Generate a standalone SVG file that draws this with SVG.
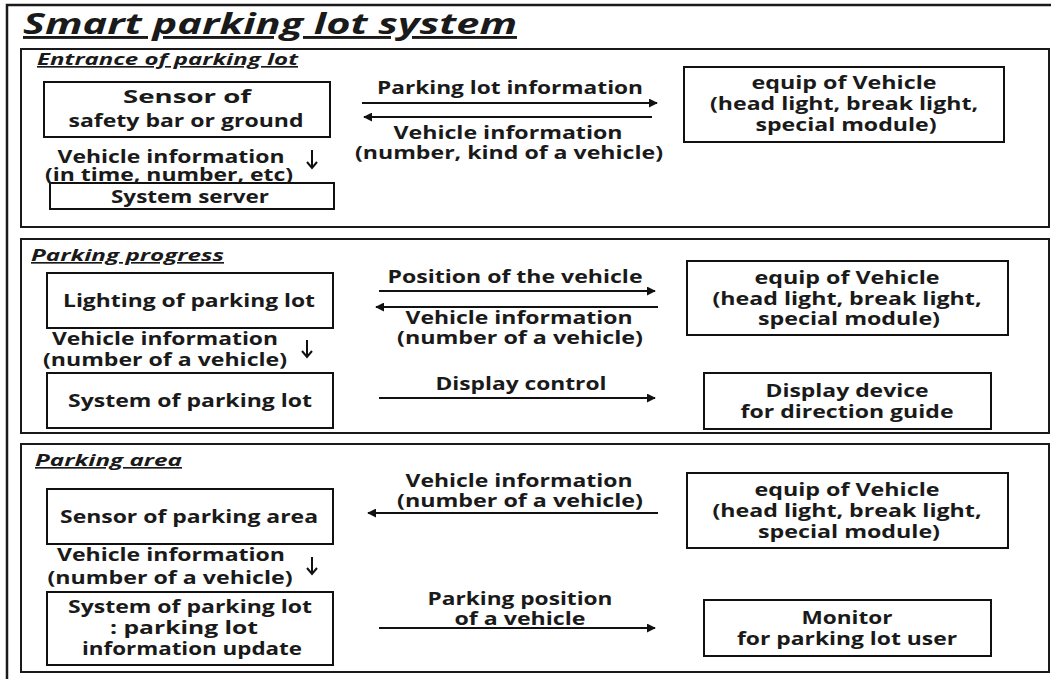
<svg xmlns="http://www.w3.org/2000/svg" width="1051" height="679" viewBox="0 0 1051 679">
  <style>
    .bg { fill: #ffffff; }
    .frame { fill: none; stroke: #1a1a1a; stroke-width: 2.5; }
    .sec { fill: none; stroke: #1a1a1a; stroke-width: 2; }
    .box { fill: #ffffff; stroke: #111111; stroke-width: 2; }
    text { font-family: "Open Sans", "DejaVu Sans", sans-serif; font-weight: 700; fill: #1a1a1a; }
    .t { font-size: 18.5px; text-anchor: middle; }
    .title { font-size: 29px; font-style: italic; text-decoration: underline; }
    .head { font-size: 16.5px; font-style: italic; text-decoration: underline; }
    .flow { fill: none; stroke: #111111; stroke-width: 2; }
    .down { fill: none; stroke: #111111; stroke-width: 2; }
  </style>
  <defs>
    <marker id="tip" viewBox="0 0 10 10" refX="9" refY="5" markerWidth="4.5" markerHeight="4.5" orient="auto-start-reverse" markerUnits="strokeWidth">
      <path d="M0,0 L10,5 L0,10 Z" fill="#111111"/>
    </marker>
  </defs>

  <rect class="bg" x="0" y="0" width="1051" height="679"/>

  <!-- outer frame and title -->
  <rect class="frame" x="7" y="5" width="1100" height="700"/>
  <text class="title" x="23" y="34" textLength="494" lengthAdjust="spacingAndGlyphs">Smart parking lot system</text>

  <!-- section panels -->
  <g id="sections">
    <rect class="sec" x="21" y="49" width="1028" height="178"/>
    <rect class="sec" x="21" y="239" width="1028" height="194"/>
    <rect class="sec" x="21" y="444" width="1028" height="228"/>
    <text class="head" x="37" y="65" textLength="261" lengthAdjust="spacingAndGlyphs">Entrance of parking lot</text>
    <text class="head" x="31" y="261" textLength="193" lengthAdjust="spacingAndGlyphs">Parking progress</text>
    <text class="head" x="35" y="466" textLength="147" lengthAdjust="spacingAndGlyphs">Parking area</text>
  </g>

  <!-- Entrance of parking lot -->
  <g id="entrance-sensor">
    <rect class="box" x="44" y="82" width="286" height="55"/>
    <text class="t" x="187" y="103" textLength="128" lengthAdjust="spacingAndGlyphs">Sensor of</text>
    <text class="t" x="186" y="127" textLength="235" lengthAdjust="spacingAndGlyphs">safety bar or ground</text>
  </g>
  <g id="entrance-server">
    <rect class="box" x="50" y="183" width="284" height="26"/>
    <text class="t" x="190" y="203" textLength="158" lengthAdjust="spacingAndGlyphs">System server</text>
  </g>
  <g id="entrance-vehicle">
    <rect class="box" x="684" y="67" width="320" height="75"/>
    <text class="t" x="844" y="89" textLength="185" lengthAdjust="spacingAndGlyphs">equip of Vehicle</text>
    <text class="t" x="844" y="110" textLength="268" lengthAdjust="spacingAndGlyphs">(head light, break light,</text>
    <text class="t" x="846" y="131" textLength="181" lengthAdjust="spacingAndGlyphs">special module)</text>
  </g>

  <!-- Parking progress -->
  <g id="progress-lighting">
    <rect class="box" x="47" y="273" width="286" height="55"/>
    <text class="t" x="189" y="307" textLength="252" lengthAdjust="spacingAndGlyphs">Lighting of parking lot</text>
  </g>
  <g id="progress-system">
    <rect class="box" x="47" y="373" width="286" height="55"/>
    <text class="t" x="190" y="407" textLength="244" lengthAdjust="spacingAndGlyphs">System of parking lot</text>
  </g>
  <g id="progress-vehicle">
    <rect class="box" x="687" y="261" width="321" height="74"/>
    <text class="t" x="847" y="284" textLength="185" lengthAdjust="spacingAndGlyphs">equip of Vehicle</text>
    <text class="t" x="847" y="305" textLength="269" lengthAdjust="spacingAndGlyphs">(head light, break light,</text>
    <text class="t" x="849" y="325" textLength="182" lengthAdjust="spacingAndGlyphs">special module)</text>
  </g>
  <g id="progress-display">
    <rect class="box" x="704" y="373" width="287" height="56"/>
    <text class="t" x="847" y="397" textLength="163" lengthAdjust="spacingAndGlyphs">Display device</text>
    <text class="t" x="847" y="418" textLength="213" lengthAdjust="spacingAndGlyphs">for direction guide</text>
  </g>

  <!-- Parking area -->
  <g id="area-sensor">
    <rect class="box" x="47" y="489" width="286" height="55"/>
    <text class="t" x="189" y="523" textLength="258" lengthAdjust="spacingAndGlyphs">Sensor of parking area</text>
  </g>
  <g id="area-system">
    <rect class="box" x="47" y="592" width="286" height="73"/>
    <text class="t" x="190" y="613" textLength="244" lengthAdjust="spacingAndGlyphs">System of parking lot</text>
    <text class="t" x="184" y="634" textLength="148" lengthAdjust="spacingAndGlyphs">: parking lot</text>
    <text class="t" x="192" y="655" textLength="220" lengthAdjust="spacingAndGlyphs">information update</text>
  </g>
  <g id="area-vehicle">
    <rect class="box" x="687" y="473" width="321" height="75"/>
    <text class="t" x="847" y="496" textLength="185" lengthAdjust="spacingAndGlyphs">equip of Vehicle</text>
    <text class="t" x="847" y="517" textLength="269" lengthAdjust="spacingAndGlyphs">(head light, break light,</text>
    <text class="t" x="849" y="538" textLength="182" lengthAdjust="spacingAndGlyphs">special module)</text>
  </g>
  <g id="area-monitor">
    <rect class="box" x="704" y="600" width="287" height="56"/>
    <text class="t" x="847" y="624" textLength="91" lengthAdjust="spacingAndGlyphs">Monitor</text>
    <text class="t" x="847" y="645" textLength="220" lengthAdjust="spacingAndGlyphs">for parking lot user</text>
  </g>

  <!-- connectors and their labels -->
  <g id="connectors">
    <!-- entrance -->
    <line class="flow" x1="362" y1="103" x2="657" y2="103" marker-end="url(#tip)"/>
    <line class="flow" x1="652" y1="117" x2="364" y2="117" marker-end="url(#tip)"/>
    <text class="t" x="510" y="94" textLength="266" lengthAdjust="spacingAndGlyphs">Parking lot information</text>
    <text class="t" x="508" y="139" textLength="229" lengthAdjust="spacingAndGlyphs">Vehicle information</text>
    <text class="t" x="509" y="159" textLength="308" lengthAdjust="spacingAndGlyphs">(number, kind of a vehicle)</text>
    <path class="down" d="M312,150 V168 M307,162 L312,168 L317,162"/>
    <text class="t" x="171" y="163" textLength="227" lengthAdjust="spacingAndGlyphs">Vehicle information</text>
    <text class="t" x="169" y="181" textLength="248" lengthAdjust="spacingAndGlyphs">(in time, number, etc)</text>

    <!-- progress -->
    <line class="flow" x1="379" y1="291" x2="655" y2="291" marker-end="url(#tip)"/>
    <line class="flow" x1="658" y1="307" x2="376" y2="307" marker-end="url(#tip)"/>
    <text class="t" x="515" y="283" textLength="255" lengthAdjust="spacingAndGlyphs">Position of the vehicle</text>
    <text class="t" x="519" y="324" textLength="227" lengthAdjust="spacingAndGlyphs">Vehicle information</text>
    <text class="t" x="520" y="344" textLength="246" lengthAdjust="spacingAndGlyphs">(number of a vehicle)</text>
    <path class="down" d="M307,340 V357 M302,351 L307,357 L312,351"/>
    <text class="t" x="165" y="345" textLength="226" lengthAdjust="spacingAndGlyphs">Vehicle information</text>
    <text class="t" x="165" y="366" textLength="244" lengthAdjust="spacingAndGlyphs">(number of a vehicle)</text>
    <line class="flow" x1="379" y1="398" x2="655" y2="398" marker-end="url(#tip)"/>
    <text class="t" x="521" y="390" textLength="171" lengthAdjust="spacingAndGlyphs">Display control</text>

    <!-- area -->
    <line class="flow" x1="658" y1="513" x2="368" y2="513" marker-end="url(#tip)"/>
    <text class="t" x="519" y="487" textLength="227" lengthAdjust="spacingAndGlyphs">Vehicle information</text>
    <text class="t" x="520" y="507" textLength="246" lengthAdjust="spacingAndGlyphs">(number of a vehicle)</text>
    <path class="down" d="M312,557 V574 M307,568 L312,574 L317,568"/>
    <text class="t" x="171" y="561" textLength="228" lengthAdjust="spacingAndGlyphs">Vehicle information</text>
    <text class="t" x="170" y="584" textLength="245" lengthAdjust="spacingAndGlyphs">(number of a vehicle)</text>
    <line class="flow" x1="379" y1="628" x2="655" y2="628" marker-end="url(#tip)"/>
    <text class="t" x="520" y="605" textLength="185" lengthAdjust="spacingAndGlyphs">Parking position</text>
    <text class="t" x="520" y="625" textLength="131" lengthAdjust="spacingAndGlyphs">of a vehicle</text>
  </g>
</svg>
